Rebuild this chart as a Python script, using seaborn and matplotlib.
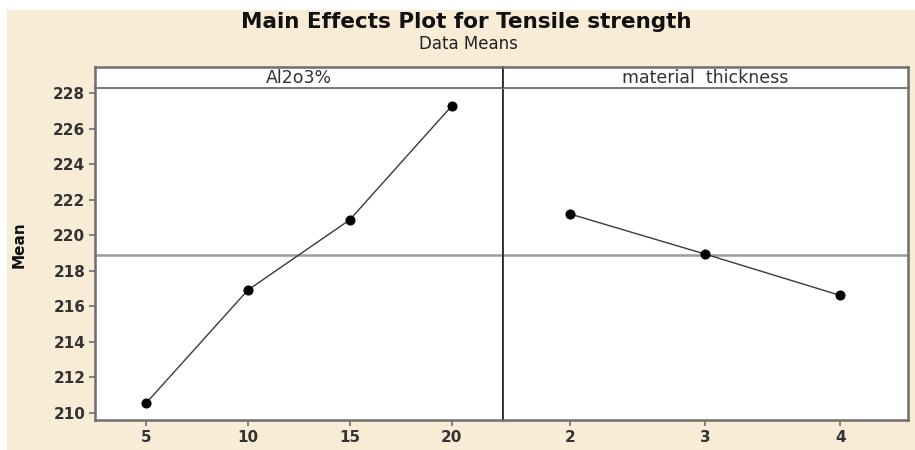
import matplotlib
matplotlib.use("Agg")
import matplotlib.pyplot as plt
import seaborn as sns
import pandas as pd
import numpy as np

# ---- data ----
al2o3_levels = ["5", "10", "15", "20"]
al2o3_means = [210.53, 216.91, 220.87, 227.28]
thick_levels = ["2", "3", "4"]
thick_means = [221.20, 218.94, 216.61]
panel_titles = ["Al2o3%", "material  thickness"]
y_ticks = [210, 212, 214, 216, 218, 220, 222, 224, 226, 228]
grand_mean = float(np.mean(al2o3_means))

sns.set_theme(style="white")
plt.rcParams['font.family'] = ['DejaVu Sans']

W, H = 915, 450
fig = plt.figure(figsize=(W / 100, H / 100), dpi=100)
fig.patch.set_facecolor("white")
bg = "#f8ecd6"
fig.add_artist(plt.Rectangle((7 / W, 0), 1 - 7 / W, 1 - 10 / H, transform=fig.transFigure,
                             facecolor=bg, edgecolor="none", zorder=-10))

def fx(px):
    return px / W

def fy(py):
    return 1 - py / H

left, mid, right = 95, 502.5, 908
top_strip, strip_bottom, bottom = 67, 87, 420

ylim = (209.59, 228.36)
spine_col = "#6e6e6e"
text_col = "#333333"

panels = [(al2o3_levels, al2o3_means, left, mid), (thick_levels, thick_means, mid, right)]
for i, (lev, mns, x0, x1) in enumerate(panels):
    ax = fig.add_axes([fx(x0), fy(bottom), fx(x1) - fx(x0), fy(strip_bottom) - fy(bottom)])
    ax.set_facecolor("white")
    df = pd.DataFrame({"level": lev, "mean": mns})
    ax.axhline(grand_mean, color="#9a9a9a", lw=1.8, zorder=1)
    sns.pointplot(data=df, x="level", y="mean", ax=ax, color="black",
                  markersize=6.5, linewidth=1.0, zorder=3)
    ax.set_xlim(-0.5, len(lev) - 0.5)
    ax.set_ylim(*ylim)
    ax.set_xlabel("")
    ax.set_ylabel("")
    ax.tick_params(axis="x", direction="out", length=4, width=1.2, color=spine_col,
                   labelsize=11, labelcolor=text_col, pad=3, bottom=True)
    for lab in ax.get_xticklabels():
        lab.set_fontweight("bold")
    ax.set_yticks(y_ticks)
    if i == 0:
        ax.set_yticklabels([str(t) for t in y_ticks], fontweight="bold")
        ax.tick_params(axis="y", direction="out", length=4, width=1.2, color=spine_col,
                       labelsize=11, labelcolor=text_col, pad=3, left=True)
    else:
        ax.tick_params(axis="y", left=False, labelleft=False)
    for s in ["left", "right", "top", "bottom"]:
        ax.spines[s].set_visible(True)
        ax.spines[s].set_color(spine_col)
        ax.spines[s].set_linewidth(1.8)
    ax.spines["top"].set_color("#7a7a7a")
    ax.spines["top"].set_linewidth(2.2)
    if i == 0:
        ax.spines["right"].set_color("#2a2a2a")
        ax.spines["right"].set_linewidth(1.3)
    else:
        ax.spines["left"].set_color("#2a2a2a")
        ax.spines["left"].set_linewidth(1.3)
    for ln in ax.lines:
        if ln.get_marker() not in (None, "None", ""):
            ln.set_markerfacecolor("black")
            ln.set_markeredgecolor("black")
            ln.set_color("#3a3a3a")

    # strip header
    sax = fig.add_axes([fx(x0), fy(strip_bottom), fx(x1) - fx(x0), fy(top_strip) - fy(strip_bottom)])
    sax.set_facecolor("white")
    sax.set_xticks([])
    sax.set_yticks([])
    for s in ["left", "right", "top", "bottom"]:
        sax.spines[s].set_visible(True)
        sax.spines[s].set_color(spine_col)
        sax.spines[s].set_linewidth(1.8)
    sax.spines["bottom"].set_visible(False)
    if i == 0:
        sax.spines["right"].set_color("#2a2a2a")
        sax.spines["right"].set_linewidth(1.3)
    else:
        sax.spines["left"].set_color("#2a2a2a")
        sax.spines["left"].set_linewidth(1.3)
    sax.text(0.5, 0.45, panel_titles[i], transform=sax.transAxes, ha="center", va="center",
             fontsize=12.5, color=text_col)

fig.text(fx(466), fy(22), "Main Effects Plot for Tensile strength", ha="center", va="center",
         fontsize=15.5, fontweight="bold", color="#111111")
fig.text(fx(468), fy(44), "Data Means", ha="center", va="center", fontsize=12, color="#222222")
fig.text(fx(19), fy(245), "Mean", ha="center", va="center", rotation=90, fontsize=11,
         fontweight="bold", color="#111111")

fig.savefig("out.png", dpi=100, facecolor=fig.get_facecolor())
